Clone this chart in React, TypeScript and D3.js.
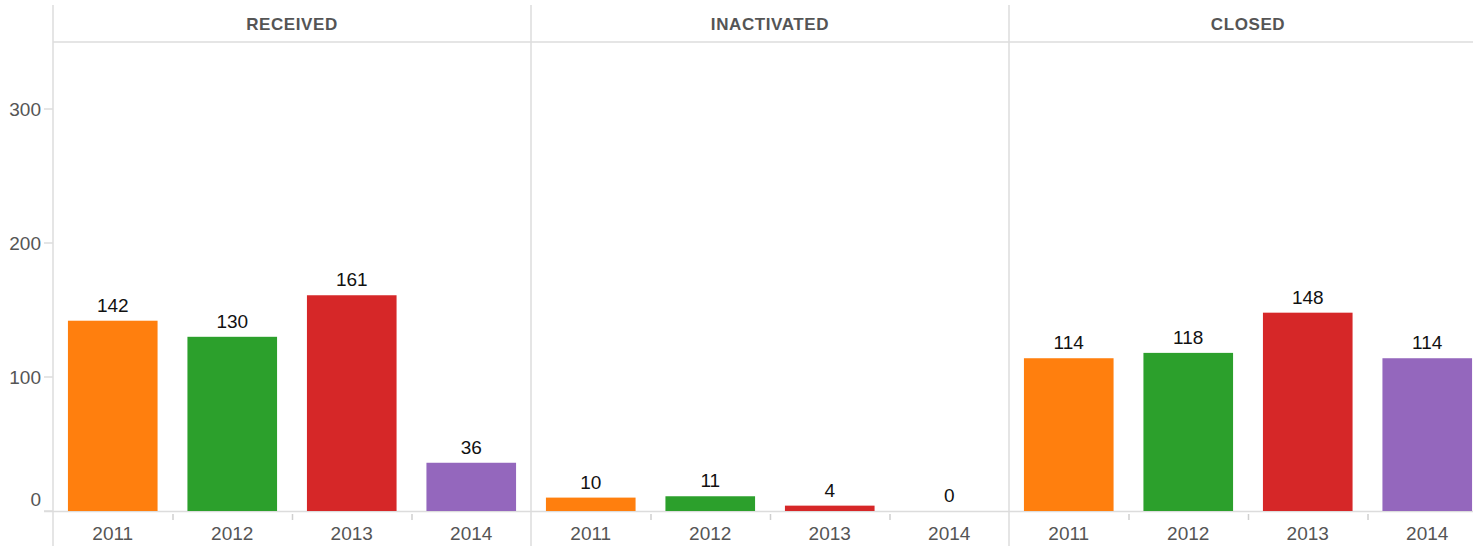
import React, { useEffect, useRef } from 'react';
import * as d3 from 'd3';

const panels = ['RECEIVED', 'INACTIVATED', 'CLOSED'];
const years = ['2011', '2012', '2013', '2014'];
const received = [142, 130, 161, 36];
const inactivated = [10, 11, 4, 0];
const closed = [114, 118, 148, 114];
const yTicks = [0, 100, 200, 300];
const colors = ['#ff7f0e', '#2ca02c', '#d62728', '#9467bd'];

const panelValues = [received, inactivated, closed];

export default function App() {
  const svgRef = useRef<SVGSVGElement>(null);

  useEffect(() => {
    if (!svgRef.current) return;
    const width = 1488;
    const height = 546;
    const left = 53;
    const headerY = 42;
    const baseY = 511;
    const panelW = 478;

    const svg = d3.select(svgRef.current);
    svg.selectAll('*').remove();
    svg.attr('width', width).attr('height', height);

    const font = 'Liberation Sans, Arial, Helvetica, sans-serif';
    const y = d3.scaleLinear().domain([0, 350]).range([baseY, headerY]);
    const px = d3.scaleBand<string>().domain(panels).range([left, left + panelW * panels.length]);
    const x = d3.scaleBand<string>().domain(years).range([0, panelW]).paddingInner(0.25).paddingOuter(0.125);

    // header line and baseline
    svg.append('line').attr('x1', left).attr('x2', width).attr('y1', headerY).attr('y2', headerY)
      .attr('stroke', '#dcdcdc').attr('stroke-width', 1.5);
    svg.append('line').attr('x1', 44).attr('x2', width).attr('y1', baseY + 0.5).attr('y2', baseY + 0.5)
      .attr('stroke', '#dcdcdc').attr('stroke-width', 1.5);

    // y axis
    const ya = svg.append('g');
    ya.selectAll('line.tick').data(yTicks).enter().append('line')
      .attr('x1', 44).attr('x2', left).attr('y1', (d) => y(d)).attr('y2', (d) => y(d))
      .attr('stroke', '#dcdcdc').attr('stroke-width', 1.5);
    ya.selectAll('text').data(yTicks).enter().append('text')
      .attr('x', 41).attr('y', (d) => (d === 0 ? y(d) - 12 : y(d)))
      .attr('dy', '0.35em').attr('text-anchor', 'end')
      .attr('fill', '#555').attr('font-size', 19).attr('font-family', font)
      .text((d) => d);

    panels.forEach((p, pi) => {
      const g = svg.append('g').attr('transform', `translate(${px(p)},0)`);
      const vals = panelValues[pi];

      g.append('line').attr('x1', 0).attr('x2', 0).attr('y1', 5).attr('y2', height)
        .attr('stroke', '#dcdcdc').attr('stroke-width', 1.5);

      g.append('text').attr('x', panelW / 2).attr('y', 30).attr('text-anchor', 'middle')
        .attr('fill', '#555').attr('font-size', 17).attr('font-weight', 'bold')
        .attr('letter-spacing', 0.6)
        .attr('font-family', font).text(p);

      // category tick marks at band boundaries
      const step = x.step();
      g.selectAll('line.ct').data(years.slice(1)).enter().append('line')
        .attr('x1', (_, i) => (i + 1) * step + 0.5).attr('x2', (_, i) => (i + 1) * step + 0.5)
        .attr('y1', baseY + 3).attr('y2', baseY + 9)
        .attr('stroke', '#cfcfcf').attr('stroke-width', 1.5);

      g.selectAll('rect').data(vals).enter().append('rect')
        .attr('x', (_, i) => x(years[i])!)
        .attr('width', x.bandwidth())
        .attr('y', (d) => y(d))
        .attr('height', (d) => baseY - y(d))
        .attr('fill', (_, i) => colors[i]);

      g.selectAll('text.val').data(vals).enter().append('text')
        .attr('x', (_, i) => x(years[i])! + x.bandwidth() / 2)
        .attr('y', (d) => y(d) - 9)
        .attr('text-anchor', 'middle').attr('fill', '#111')
        .attr('font-size', 19).attr('font-family', font)
        .text((d) => d);

      g.selectAll('text.yr').data(years).enter().append('text')
        .attr('x', (d) => x(d)! + x.bandwidth() / 2)
        .attr('y', 540)
        .attr('text-anchor', 'middle').attr('fill', '#555')
        .attr('font-size', 19).attr('font-family', font)
        .text((d) => d);
    });
  }, []);

  return (
    <div style={{ position: 'absolute', left: 0, top: 0, width: 1473, height: 546, overflow: 'hidden', background: '#fff' }}>
      <svg ref={svgRef} style={{ display: 'block' }} />
    </div>
  );
}
